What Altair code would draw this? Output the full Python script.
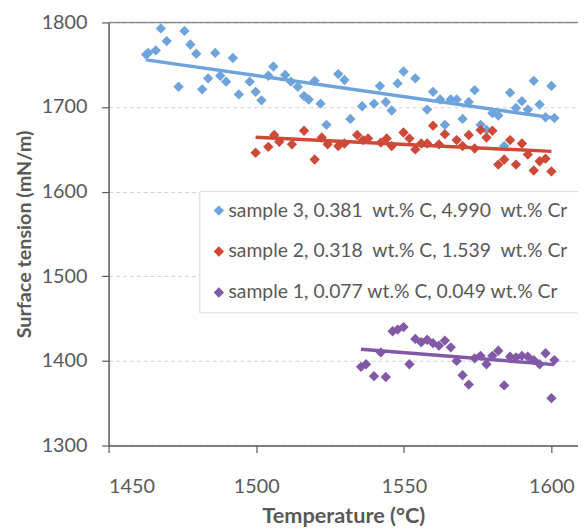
import altair as alt
import pandas as pd

S3 = "sample 3, 0.381\u00a0 wt.% C, 4.990\u00a0 wt.% Cr"
S2 = "sample 2, 0.318\u00a0 wt.% C, 1.539\u00a0 wt.% Cr"
S1 = "sample 1, 0.077 wt.% C, 0.049 wt.% Cr"

s3_temp = [1462.7, 1463.4, 1466.0, 1467.7, 1469.7, 1473.7, 1475.7, 1477.7, 1479.7, 1481.7,
           1483.7, 1486.1, 1487.8, 1489.8, 1492.1, 1494.1, 1497.8, 1499.8, 1501.8, 1504.1,
           1505.8, 1509.8, 1511.8, 1514.1, 1516.2, 1517.8, 1519.8, 1521.8, 1523.8, 1527.8,
           1529.9, 1531.9, 1535.9, 1539.9, 1541.9, 1543.9, 1545.9, 1547.9, 1549.9, 1553.9,
           1557.9, 1559.9, 1562.3, 1563.9, 1565.9, 1567.9, 1569.9, 1572.0, 1574.0, 1576.0,
           1578.0, 1580.0, 1582.0, 1584.0, 1586.0, 1588.0, 1590.0, 1592.0, 1594.0, 1596.0,
           1598.0, 1600.0, 1601.0]
s3_tension = [1762, 1764, 1767, 1793, 1778, 1724, 1790, 1774, 1763, 1721,
              1734, 1764, 1737, 1730, 1758, 1715, 1730, 1718, 1708, 1737,
              1748, 1738, 1730, 1724, 1713, 1709, 1731, 1704, 1679, 1739,
              1732, 1686, 1701, 1704, 1725, 1706, 1696, 1728, 1742, 1734,
              1697, 1718, 1709, 1679, 1709, 1709, 1686, 1706, 1720, 1679,
              1673, 1693, 1690, 1654, 1717, 1699, 1707, 1697, 1731, 1703,
              1688, 1725, 1687]

s2_temp = [1499.8, 1504.1, 1506.1, 1507.8, 1512.1, 1516.2, 1519.8, 1522.2, 1524.2, 1527.8,
           1529.9, 1534.2, 1536.2, 1537.9, 1542.2, 1544.2, 1545.9, 1549.9, 1551.9, 1553.9,
           1555.9, 1557.9, 1559.9, 1561.9, 1563.9, 1567.9, 1569.9, 1572.0, 1574.0, 1576.0,
           1578.0, 1580.0, 1582.0, 1584.0, 1586.0, 1588.0, 1590.0, 1592.0, 1594.0, 1596.0,
           1598.0, 1600.0]
s2_tension = [1646, 1653, 1667, 1659, 1656, 1672, 1638, 1664, 1656, 1654,
              1657, 1667, 1661, 1663, 1658, 1663, 1654, 1670, 1663, 1650,
              1657, 1657, 1678, 1656, 1668, 1661, 1654, 1667, 1651, 1673,
              1664, 1672, 1632, 1638, 1661, 1632, 1657, 1644, 1625, 1636,
              1639, 1624]

s1_temp = [1535.5, 1537.2, 1539.9, 1542.2, 1543.9, 1546.2, 1547.9, 1549.9, 1551.9, 1553.9,
           1555.9, 1557.9, 1559.9, 1561.9, 1563.9, 1565.9, 1567.9, 1569.9, 1572.0, 1574.0,
           1576.0, 1578.0, 1580.0, 1582.0, 1584.0, 1586.0, 1588.0, 1590.0, 1592.0, 1594.0,
           1596.0, 1598.0, 1600.0, 1601.0]
s1_tension = [1393, 1396, 1382, 1410, 1381, 1435, 1437, 1440, 1396, 1426,
              1422, 1425, 1421, 1418, 1424, 1416, 1400, 1383, 1372, 1403,
              1406, 1396, 1406, 1412, 1371, 1405, 1404, 1406, 1405, 1401,
              1396, 1409, 1356, 1401]

series_names = [S3, S2, S1]
series_colors = ["#6fa3dc", "#cc4a37", "#8159a6"]
x_ticks = [1450, 1500, 1550, 1600]
y_ticks = [1300, 1400, 1500, 1600, 1700, 1800]

rows = []
for name, xs, ys in [(S3, s3_temp, s3_tension), (S2, s2_temp, s2_tension), (S1, s1_temp, s1_tension)]:
    for a, b in zip(xs, ys):
        rows.append({"series": name, "temp": a, "tension": b})
df = pd.DataFrame(rows)

FONT = "Lato"
GREY = "#595959"

x_enc = alt.X("temp:Q", scale=alt.Scale(domain=[1450, 1609], nice=False, zero=False),
              axis=alt.Axis(values=x_ticks, title="Temperature (°C)", grid=False,
                            format="d", tickSize=7, labelPadding=25, titlePadding=9,
                            titleFontSize=22))
y_enc = alt.Y("tension:Q", scale=alt.Scale(domain=[1300, 1800], nice=False, zero=False),
              axis=alt.Axis(values=y_ticks, title="Surface tension (mN/m)", grid=True,
                            gridDash=[4, 3], gridColor="#d0d0d0", format="d",
                            tickSize=7, labelPadding=15, titlePadding=7,
                            titleFontSize=20))
color_scale = alt.Scale(domain=series_names, range=series_colors)

points = alt.Chart(df).mark_point(shape="diamond", filled=True, size=110, opacity=1).encode(
    x=x_enc, y=y_enc,
    color=alt.Color("series:N", scale=color_scale, sort=series_names,
                    legend=alt.Legend(title=None, orient="none", legendX=92, legendY=171,
                                      symbolType="diamond", symbolSize=70,
                                      labelFontSize=19.6, labelLimit=600, labelColor=GREY,
                                      rowPadding=20.5, padding=10, strokeColor="#d9d9d9",
                                      fillColor="white", labelOffset=0)),
)

lines = alt.Chart(df).transform_regression("temp", "tension", groupby=["series"]).mark_line(
    strokeWidth=3.5).encode(
    x=alt.X("temp:Q"), y=alt.Y("tension:Q"),
    color=alt.Color("series:N", scale=color_scale, legend=None),
)

top = alt.Chart(pd.DataFrame({"v": [1800]})).mark_rule(color="#8c8c8c", strokeWidth=1.5).encode(
    y=alt.Y("v:Q"))

chart = alt.layer(top, points, lines).properties(
    width=476, height=429,
    padding={"left": 102, "top": 11, "right": 0, "bottom": 82},
    autosize=alt.AutoSizeParams(type="none"),
).configure_view(stroke=None).configure_axis(
    labelFont=FONT, titleFont=FONT, labelFontSize=20,
    labelColor=GREY, titleColor=GREY, titleFontWeight="bold",
    domainColor=GREY, domainWidth=1.5, tickColor=GREY, tickWidth=1.2,
).configure_legend(labelFont=FONT)

chart.save("out.html", embed_options={"renderer": "svg", "actions": False})
